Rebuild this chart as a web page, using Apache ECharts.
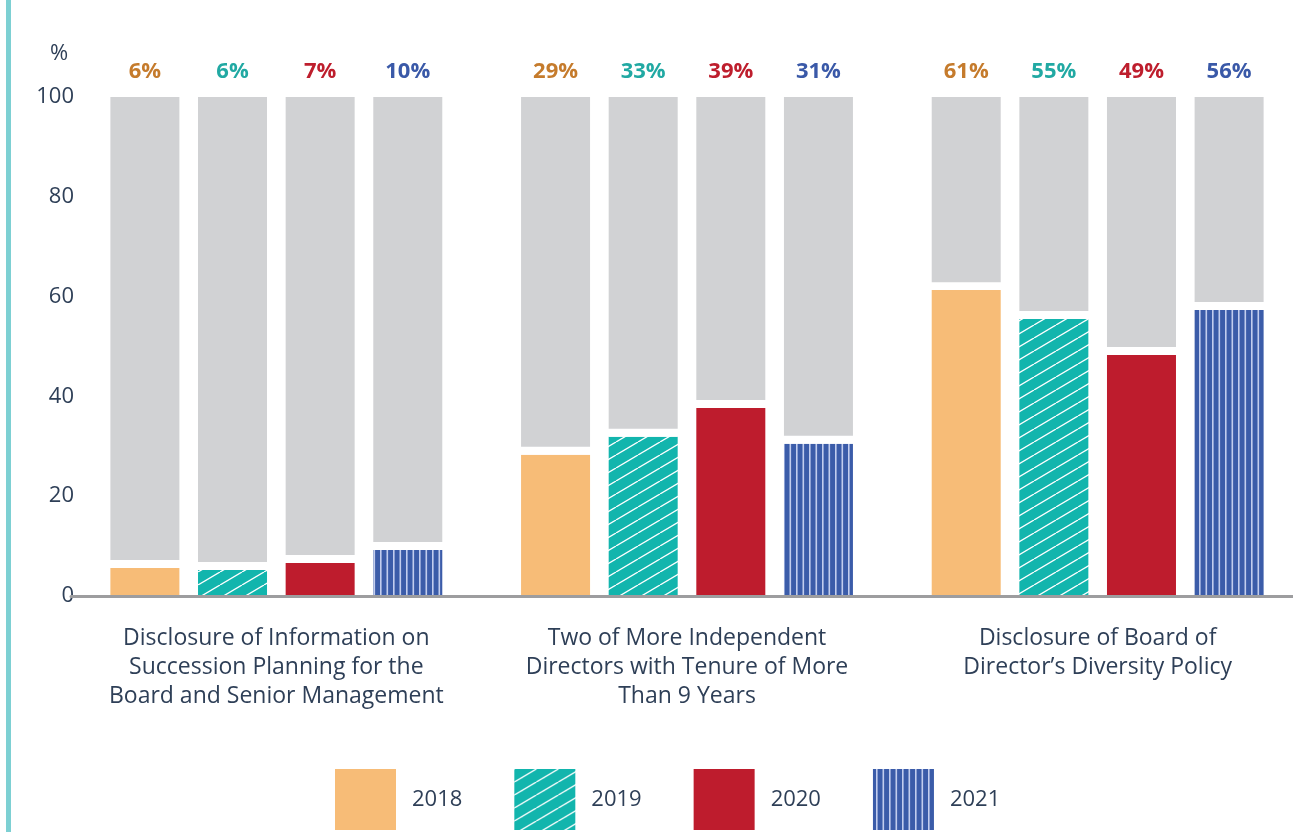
<!DOCTYPE html>
<html>
<head>
<meta charset="utf-8">
<script src="https://cdn.jsdelivr.net/npm/echarts@6/dist/echarts.min.js"></script>
<style>
  html, body { margin: 0; padding: 0; background: #fff; }
  #chart { width: 1293px; height: 832px; }
</style>
</head>
<body>
<div id="chart"></div>
<script>
// 数据
const categories = [
    'Disclosure of Information on\nSuccession Planning for the\nBoard and Senior Management',
    'Two of More Independent\nDirectors with Tenure of More\nThan 9 Years',
    'Disclosure of Board of\nDirector\u2019s Diversity Policy'
];
const years = ['2018', '2019', '2020', '2021'];
// bar heights as drawn
const v2018 = [5.6, 28.3, 61.3];
const v2019 = [5.2, 31.9, 55.5];
const v2020 = [6.6, 37.7, 48.3];
const v2021 = [9.2, 30.5, 57.3];
// labels above the bars
const l2018 = ['6%', '29%', '61%'];
const l2019 = ['6%', '33%', '55%'];
const l2020 = ['7%', '39%', '49%'];
const l2021 = ['10%', '31%', '56%'];
const yTicks = [0, 20, 40, 60, 80, 100];

(function() {
    let chartDom = document.getElementById('chart');
    let myChart = echarts.init(chartDom);

    const TEXT = '#2e3f57';
    const GRAY = '#d1d2d4';
    const GAP = 1.6; // white gap between coloured bar and grey bar

    // 斜线填充
    function hatch() {
        const w = 22, h = 13;
        const c = document.createElement('canvas');
        c.width = w; c.height = h;
        const ctx = c.getContext('2d');
        ctx.fillStyle = '#12b5ad';
        ctx.fillRect(0, 0, w, h);
        ctx.strokeStyle = '#ffffff';
        ctx.lineWidth = 1.3;
        [-w, 0, w].forEach(function(dx) {
            ctx.beginPath();
            ctx.moveTo(dx, h);
            ctx.lineTo(dx + w, 0);
            ctx.stroke();
        });
        return c;
    }
    // 竖线填充
    function stripes() {
        const w = 13, h = 10;
        const c = document.createElement('canvas');
        c.width = w; c.height = h;
        const ctx = c.getContext('2d');
        ctx.fillStyle = '#3b5ca9';
        ctx.fillRect(0, 0, w, h);
        ctx.fillStyle = '#c2cdee';
        ctx.fillRect(3, 0, 1.6, h);
        ctx.fillRect(9.5, 0, 1.6, h);
        return c;
    }

    const values = [v2018, v2019, v2020, v2021];
    const labels = [l2018, l2019, l2020, l2021];
    const fills = [
        '#f7bc77',
        { image: hatch(), repeat: 'repeat' },
        '#be1c2d',
        { image: stripes(), repeat: 'repeat' }
    ];
    const labelColors = ['#c57b2c', '#21a9a3', '#be1e2d', '#3a59a8'];

    let series = [];
    years.forEach(function(y, i) {
        series.push({
            name: y,
            type: 'bar',
            stack: 's' + i,
            barWidth: 69,
            barGap: '27%',
            data: values[i],
            itemStyle: { color: fills[i] }
        });
        series.push({
            name: 'gap' + i,
            type: 'bar',
            stack: 's' + i,
            barWidth: 69,
            barGap: '27%',
            silent: true,
            data: values[i].map(function() { return GAP; }),
            itemStyle: { color: '#ffffff' }
        });
        series.push({
            name: 'rest' + i,
            type: 'bar',
            stack: 's' + i,
            barWidth: 69,
            barGap: '27%',
            data: values[i].map(function(v) { return 100 - v - GAP; }),
            itemStyle: { color: GRAY },
            label: {
                show: true,
                position: 'top',
                distance: 14,
                formatter: function(p) { return labels[i][p.dataIndex]; },
                color: labelColors[i],
                fontWeight: 'bold',
                fontSize: 22,
                fontFamily: 'Open Sans'
            }
        });
    });

    let option = {
        animation: false,
        textStyle: { fontFamily: 'Open Sans' },
        graphic: [{
            type: 'rect',
            left: 6,
            top: 0,
            shape: { width: 5, height: 832 },
            style: { fill: '#7dd0d3' }
        }],
        legend: {
            data: years,
            left: 335,
            top: 769,
            padding: 0,
            icon: 'rect',
            itemWidth: 61,
            itemHeight: 61,
            itemGap: 52,
            textStyle: {
                color: TEXT,
                fontSize: 22,
                width: 50,
                padding: [0, 0, 0, 11]
            }
        },
        grid: {
            left: 71,
            width: 1232,
            top: 97,
            bottom: 236,
            outerBoundsMode: 'none'
        },
        xAxis: {
            type: 'category',
            data: categories,
            z: 5,
            axisLine: { lineStyle: { color: '#9d9d9f', width: 3 } },
            axisTick: { show: false },
            axisLabel: {
                color: TEXT,
                fontSize: 23,
                lineHeight: 29,
                margin: 28,
                interval: 0
            }
        },
        yAxis: {
            type: 'value',
            min: 0,
            max: 100,
            interval: 20,
            name: '%',
            nameLocation: 'end',
            nameGap: 32,
            nameTextStyle: { color: TEXT, fontSize: 22, padding: [0, 24, 0, 0] },
            axisLine: { show: false },
            axisTick: { show: false },
            splitLine: { show: false },
            axisLabel: {
                color: TEXT,
                fontSize: 22,
                margin: -3,
                formatter: function(v) { return yTicks.indexOf(v) >= 0 ? String(v) : ''; }
            }
        },
        series: series
    };
    myChart.setOption(option);
    window.addEventListener("resize", function() {
        myChart.resize();
    });
})();
</script>
</body>
</html>
